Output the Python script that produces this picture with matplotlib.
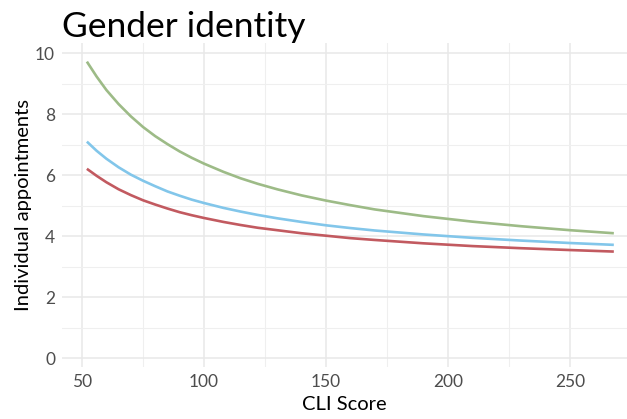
import matplotlib
matplotlib.use('Agg')
import matplotlib.pyplot as plt
from matplotlib.ticker import MultipleLocator

plt.rcParams['font.family'] = ['Lato', 'DejaVu Sans']

# values
cli_score = [52, 56, 60, 65, 70, 75, 80, 85, 90, 95, 100, 108, 115, 122, 130, 140, 150,
             160, 170, 190, 210, 230, 250, 268]
green_vals = [9.72, 9.23, 8.79, 8.33, 7.93, 7.58, 7.28, 7.02, 6.78, 6.57, 6.38, 6.11,
              5.90, 5.72, 5.54, 5.34, 5.17, 5.02, 4.88, 4.66, 4.48, 4.33, 4.20, 4.10]
blue_vals = [7.10, 6.80, 6.54, 6.26, 6.02, 5.82, 5.64, 5.47, 5.33, 5.20, 5.09, 4.93,
             4.81, 4.70, 4.59, 4.47, 4.36, 4.27, 4.19, 4.06, 3.95, 3.86, 3.78, 3.72]
red_vals = [6.21, 5.98, 5.77, 5.54, 5.35, 5.18, 5.04, 4.91, 4.79, 4.69, 4.60, 4.47,
            4.37, 4.28, 4.20, 4.10, 4.02, 3.94, 3.88, 3.77, 3.68, 3.61, 3.55, 3.50]

fig = plt.figure(figsize=(6.27, 4.19), dpi=100)
ax = fig.add_axes([62/627, 52/419, 565/627, 324/419])

ax.plot(cli_score, green_vals, color='#9dbb87', lw=1.9, solid_capstyle='butt')
ax.plot(cli_score, blue_vals, color='#82c6ea', lw=1.9, solid_capstyle='butt')
ax.plot(cli_score, red_vals, color='#c25a60', lw=1.9, solid_capstyle='butt')

ax.set_xlim(41.8, 273.4)
ax.set_ylim(-0.28, 10.33)
ax.xaxis.set_major_locator(MultipleLocator(50))
ax.xaxis.set_minor_locator(MultipleLocator(25))
ax.yaxis.set_major_locator(MultipleLocator(2))
ax.yaxis.set_minor_locator(MultipleLocator(1))

ax.grid(which='major', color='#e8e8e8', lw=1.1)
ax.grid(which='minor', color='#efefef', lw=0.8)
ax.set_axisbelow(True)
for s in ax.spines.values():
    s.set_visible(False)
ax.tick_params(which='both', length=0, labelsize=12.5, labelcolor='#4d4d4d', pad=5)

ax.set_xlabel('CLI Score', fontsize=14.5, labelpad=4)
ax.set_ylabel('Individual appointments', fontsize=14.5, labelpad=2)
fig.text(62/627, 1 - 37/419, 'Gender identity', fontsize=25.5, ha='left', va='baseline')

plt.savefig('out.png', dpi=100)
